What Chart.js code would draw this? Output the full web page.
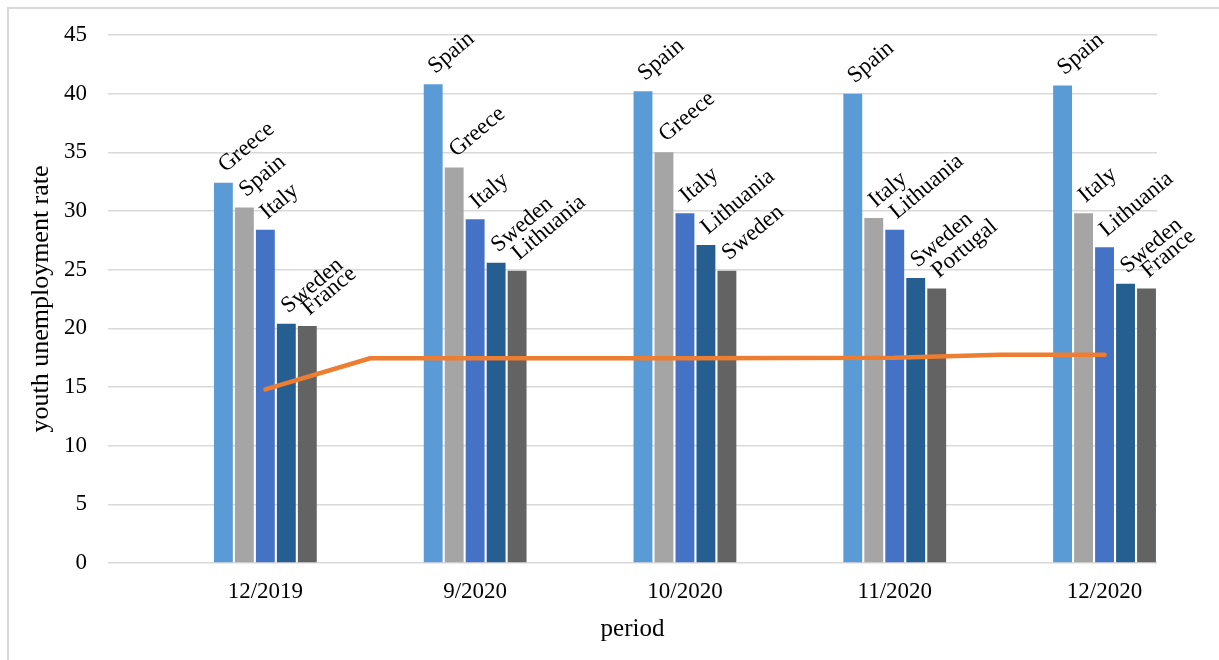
<!DOCTYPE html>
<html lang="en">
<head>
    <meta charset="UTF-8">
    <title>Youth unemployment rate</title>
    <script src="https://cdn.jsdelivr.net/npm/chart.js"></script>
    <style>
        body { margin: 0; background: #fff; }
    </style>
</head>
<body>
    <canvas id="chart" width="1219" height="660"></canvas>

    <script>
        // periods on the x axis
        const periods = ['12/2019', '9/2020', '10/2020', '11/2020', '12/2020'];

        // the five highest rates in each period, ranked
        const rank1 = [32.4, 40.8, 40.2, 40.0, 40.7];
        const rank2 = [30.3, 33.7, 35.0, 29.4, 29.8];
        const rank3 = [28.4, 29.3, 29.8, 28.4, 26.9];
        const rank4 = [20.4, 25.6, 27.1, 24.3, 23.8];
        const rank5 = [20.2, 24.9, 24.9, 23.4, 23.4];

        const rank1Names = ['Greece', 'Spain', 'Spain', 'Spain', 'Spain'];
        const rank2Names = ['Spain', 'Greece', 'Greece', 'Italy', 'Italy'];
        const rank3Names = ['Italy', 'Italy', 'Italy', 'Lithuania', 'Lithuania'];
        const rank4Names = ['Sweden', 'Sweden', 'Lithuania', 'Sweden', 'Sweden'];
        const rank5Names = ['France', 'Lithuania', 'Sweden', 'Portugal', 'France'];

        // orange line, read every half period from 12/2019 to 12/2020
        const averageLine = [14.8, 17.45, 17.45, 17.45, 17.45, 17.47, 17.5, 17.75, 17.75];

        const yTicks = [0, 5, 10, 15, 20, 25, 30, 35, 40, 45];

        const barColors = ['#5B9BD5', '#A5A5A5', '#4472C4', '#255E91', '#636363'];
        const ranks = [rank1, rank2, rank3, rank4, rank5];
        const rankNames = [rank1Names, rank2Names, rank3Names, rank4Names, rank5Names];

        Chart.defaults.font.family = "'Liberation Serif', 'Times New Roman', serif";
        Chart.defaults.color = '#000';

        const barSets = ranks.map((vals, k) => ({
            type: 'bar',
            label: 'rank ' + (k + 1),
            data: vals.map((v, i) => ({ x: i, y: v })),
            names: rankNames[k],
            backgroundColor: barColors[k],
            categoryPercentage: 0.5,
            barPercentage: 0.9,
            order: 1
        }));

        const lineSet = {
            type: 'line',
            label: 'average',
            data: averageLine.map((v, i) => ({ x: i / 2, y: v })),
            borderColor: '#ED7D31',
            borderWidth: 4.5,
            borderCapStyle: 'round',
            borderJoinStyle: 'round',
            pointRadius: 0,
            tension: 0,
            order: 0
        };

        // frame + white background
        const frame = {
            id: 'frame',
            beforeDraw(chart) {
                const ctx = chart.ctx;
                ctx.save();
                ctx.fillStyle = '#fff';
                ctx.fillRect(0, 0, chart.width, chart.height);
                ctx.strokeStyle = '#d9d9d9';
                ctx.lineWidth = 2;
                ctx.strokeRect(8, 8, chart.width + 20, chart.height + 20);
                ctx.restore();
            }
        };

        // rotated country names above the bars
        const barNames = {
            id: 'barNames',
            afterDatasetsDraw(chart) {
                const ctx = chart.ctx;
                ctx.save();
                ctx.font = "23px 'Liberation Serif'";
                ctx.fillStyle = '#000';
                ctx.textAlign = 'left';
                ctx.textBaseline = 'alphabetic';
                chart.data.datasets.forEach((ds, di) => {
                    if (!ds.names) return;
                    chart.getDatasetMeta(di).data.forEach((bar, i) => {
                        ctx.save();
                        ctx.translate(bar.x + 2, bar.y - 10);
                        ctx.rotate(-40 * Math.PI / 180);
                        ctx.fillText(ds.names[i], 0, 0);
                        ctx.restore();
                    });
                });
                ctx.restore();
            }
        };

        new Chart(document.getElementById('chart'), {
            data: {
                datasets: [lineSet, ...barSets]
            },
            options: {
                responsive: false,
                animation: false,
                layout: { padding: { top: 35, right: 62, bottom: 0, left: 0 } },
                plugins: {
                    legend: { display: false },
                    tooltip: { enabled: false }
                },
                scales: {
                    x: {
                        type: 'linear',
                        offset: false,
                        min: -0.75,
                        max: 4.25,
                        afterBuildTicks: axis => { axis.ticks = periods.map((p, i) => ({ value: i })); },
                        afterFit: axis => { axis.height = 97; },
                        grid: { display: false, offset: false },
                        border: { display: false },
                        ticks: {
                            autoSkip: false,
                            maxRotation: 0,
                            padding: 7,
                            font: { size: 23 },
                            callback: (v, i) => periods[i]
                        },
                        title: {
                            display: true,
                            text: 'period',
                            font: { size: 25 },
                            padding: { top: 0, bottom: 16 }
                        }
                    },
                    y: {
                        min: 0,
                        max: 45,
                        afterBuildTicks: axis => { axis.ticks = yTicks.map(v => ({ value: v })); },
                        afterFit: axis => { axis.width = 108; },
                        grid: { color: '#d9d9d9', lineWidth: 1.5, drawTicks: false },
                        border: { display: false },
                        ticks: { padding: 21, font: { size: 23 } },
                        title: {
                            display: true,
                            text: 'youth unemployment rate',
                            font: { size: 26 },
                            padding: { top: 26, bottom: 0 }
                        }
                    }
                }
            },
            plugins: [frame, barNames]
        });
    </script>
</body>
</html>
